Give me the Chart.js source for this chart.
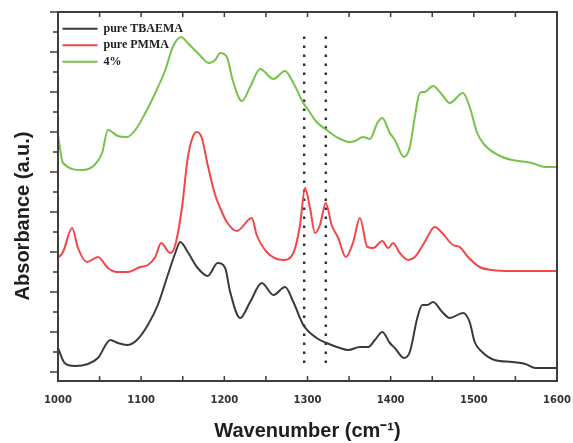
<!DOCTYPE html>
<html>
<head>
<meta charset="utf-8">
<script src="https://cdn.jsdelivr.net/npm/chart.js@4/dist/chart.umd.min.js"></script>
<style>
  html, body { margin: 0; padding: 0; background: #fff; }
  #wrap { width: 573px; height: 443px; position: relative; }
</style>
</head>
<body>
<div id="wrap"><canvas id="ftirChart"></canvas></div>
<script>
// Wavenumber (cm-1) and absorbance (a.u., offset)
const tbaemaX = [1000, 1008, 1020, 1036, 1048, 1063, 1072, 1083, 1095, 1108, 1120, 1132, 1141, 1147, 1156, 1168, 1180, 1192, 1201, 1207, 1219, 1231, 1245, 1259, 1273, 1283, 1295, 1311, 1323, 1339, 1349, 1363, 1373, 1381, 1390, 1399, 1405, 1416, 1423, 1432, 1438, 1444, 1451, 1462, 1471, 1487, 1495, 1501, 1510, 1525, 1546, 1562, 1574, 1600];
const tbaemaY = [0.12, 0.045, 0.03, 0.04, 0.07, 0.16, 0.145, 0.135, 0.16, 0.235, 0.335, 0.485, 0.595, 0.65, 0.60, 0.52, 0.48, 0.545, 0.52, 0.40, 0.27, 0.35, 0.445, 0.385, 0.425, 0.35, 0.235, 0.17, 0.145, 0.12, 0.11, 0.125, 0.125, 0.16, 0.20, 0.145, 0.12, 0.07, 0.10, 0.27, 0.335, 0.335, 0.35, 0.30, 0.27, 0.295, 0.25, 0.15, 0.10, 0.06, 0.05, 0.04, 0.02, 0.02];

const pmmaX = [1000, 1006, 1017, 1024, 1035, 1048, 1060, 1071, 1084, 1099, 1108, 1117, 1124, 1135, 1141, 1149, 1156, 1162, 1167, 1173, 1180, 1189, 1195, 1203, 1215, 1233, 1239, 1251, 1271, 1283, 1291, 1297, 1303, 1309, 1315, 1322, 1329, 1337, 1346, 1355, 1363, 1372, 1379, 1390, 1397, 1403, 1411, 1421, 1429, 1441, 1453, 1462, 1475, 1483, 1493, 1507, 1522, 1546, 1570, 1600];
const pmmaY = [0.57, 0.60, 0.72, 0.62, 0.55, 0.575, 0.52, 0.50, 0.50, 0.525, 0.535, 0.575, 0.645, 0.595, 0.635, 0.82, 1.07, 1.175, 1.20, 1.17, 1.035, 0.885, 0.82, 0.75, 0.705, 0.77, 0.685, 0.60, 0.56, 0.595, 0.735, 0.92, 0.82, 0.695, 0.735, 0.845, 0.735, 0.67, 0.575, 0.65, 0.77, 0.625, 0.62, 0.655, 0.62, 0.645, 0.595, 0.56, 0.575, 0.65, 0.725, 0.695, 0.635, 0.625, 0.575, 0.525, 0.51, 0.505, 0.505, 0.505];

const mixX = [1000, 1006, 1029, 1044, 1053, 1060, 1072, 1083, 1093, 1105, 1117, 1129, 1138, 1148, 1156, 1168, 1182, 1189, 1195, 1203, 1210, 1221, 1231, 1243, 1259, 1273, 1283, 1295, 1301, 1311, 1323, 1337, 1351, 1357, 1367, 1375, 1384, 1390, 1399, 1405, 1416, 1423, 1429, 1435, 1441, 1451, 1462, 1471, 1487, 1495, 1504, 1513, 1529, 1546, 1570, 1586, 1600];
const mixY = [1.185, 1.045, 1.01, 1.035, 1.095, 1.21, 1.18, 1.175, 1.21, 1.295, 1.395, 1.51, 1.625, 1.675, 1.645, 1.595, 1.545, 1.56, 1.595, 1.575, 1.46, 1.355, 1.425, 1.515, 1.465, 1.505, 1.445, 1.345, 1.31, 1.25, 1.21, 1.17, 1.15, 1.155, 1.175, 1.165, 1.245, 1.27, 1.195, 1.16, 1.075, 1.125, 1.275, 1.395, 1.40, 1.43, 1.385, 1.345, 1.395, 1.325, 1.195, 1.135, 1.085, 1.06, 1.045, 1.025, 1.025];

const seriesNames = ["pure TBAEMA", "pure PMMA", "4%"];
const markerX = [1296, 1322];        // dotted guide lines
const markerSpan = [0.045, 1.695];
const xTickValues = [1000, 1100, 1200, 1300, 1400, 1500, 1600];

const yTickValues = [];
for (let i = 0; i <= 18; i++) yTickValues.push(i / 10);

function zip(xs, ys) {
  return xs.map((x, i) => ({ x: x, y: ys[i] }));
}

function curve(label, xs, ys, color) {
  return {
    label: label,
    data: zip(xs, ys),
    borderColor: color,
    backgroundColor: color,
    borderWidth: 2,
    pointRadius: 0,
    cubicInterpolationMode: "monotone",
  };
}

const datasets = [
  curve(seriesNames[0], tbaemaX, tbaemaY, "#3a3a3a"),
  curve(seriesNames[1], pmmaX, pmmaY, "#f2464a"),
  curve(seriesNames[2], mixX, mixY, "#78c24a"),
];
markerX.forEach(function (m) {
  datasets.push({
    label: "",
    data: markerSpan.map((v) => ({ x: m, y: v })),
    borderColor: "#333",
    borderWidth: 2.5,
    borderDash: [2.5, 6.5],
    pointRadius: 0,
  });
});

// frame + inward x ticks + outward y ticks
const frame = {
  id: "frame",
  afterDraw(chart) {
    const { ctx, chartArea: a, scales } = chart;
    const x = scales.x, y = scales.y;
    ctx.save();
    ctx.strokeStyle = "#3d3d3d";
    ctx.lineWidth = 2;
    ctx.strokeRect(a.left, a.top, a.right - a.left, a.bottom - a.top);
    ctx.lineWidth = 1.5;
    ctx.beginPath();
    for (let v = 1050; v < 1600; v += 50) {
      const px = x.getPixelForValue(v);
      ctx.moveTo(px, a.bottom);
      ctx.lineTo(px, a.bottom - 5);
      ctx.moveTo(px, a.top);
      ctx.lineTo(px, a.top + 5);
    }
    yTickValues.forEach(function (v, i) {
      const py = y.getPixelForValue(v);
      const len = i % 2 === 0 ? 8 : 5;
      ctx.moveTo(a.left, py);
      ctx.lineTo(a.left - len, py);
    });
    ctx.stroke();
    ctx.restore();
  },
};

Chart.defaults.font.family = "'Liberation Sans', Arial, sans-serif";

new Chart(document.getElementById("ftirChart"), {
  type: "line",
  data: { datasets: datasets },
  plugins: [frame],
  options: {
    responsive: true,
    maintainAspectRatio: false,
    animation: false,
    layout: { padding: { left: 0, right: 16, top: 12, bottom: 0 } },
    plugins: {
      tooltip: { enabled: false },
      legend: {
        position: "chartArea",
        align: "start",
        title: { display: true, text: "", font: { size: 1 }, padding: { top: 17, bottom: 0 } },
        labels: {
          filter: (item) => item.datasetIndex < 3,
          usePointStyle: true,
          pointStyle: "line",
          pointStyleWidth: 35,
          padding: 4.5,
          color: "#222",
          font: { family: "'Liberation Serif', 'DejaVu Serif', serif", weight: "bold", size: 12 },
        },
      },
    },
    scales: {
      x: {
        type: "linear",
        min: 1000,
        max: 1600,
        afterFit: (s) => {
          s.height = 62;
          s.paddingLeft = 0;
          s.paddingRight = 0;
        },
        afterBuildTicks: (s) => { s.ticks = xTickValues.map((v) => ({ value: v })); },
        border: { display: false },
        grid: { display: false, drawTicks: false },
        ticks: {
          padding: 13,
          color: "#333",
          autoSkip: false,
          maxRotation: 0,
          callback: (v) => String(v),
          font: { family: "'DejaVu Sans', sans-serif", weight: "bold", size: 10 },
        },
        title: {
          display: true,
          text: "Wavenumber (cm\u207B\u00B9)",
          color: "#1e1e1e",
          padding: { top: 0, bottom: 0 },
          font: { size: 20, weight: "bold" },
        },
      },
      y: {
        type: "linear",
        min: -0.045,
        max: 1.8,
        afterFit: (s) => { s.width = 58; },
        border: { display: false },
        grid: { display: false, drawTicks: false },
        ticks: { display: false, stepSize: 0.1 },
        title: {
          display: true,
          text: "Absorbance (a.u.)       ",
          color: "#1e1e1e",
          padding: { top: 11, bottom: 0 },
          font: { size: 20, weight: "bold" },
        },
      },
    },
  },
});
</script>
</body>
</html>
